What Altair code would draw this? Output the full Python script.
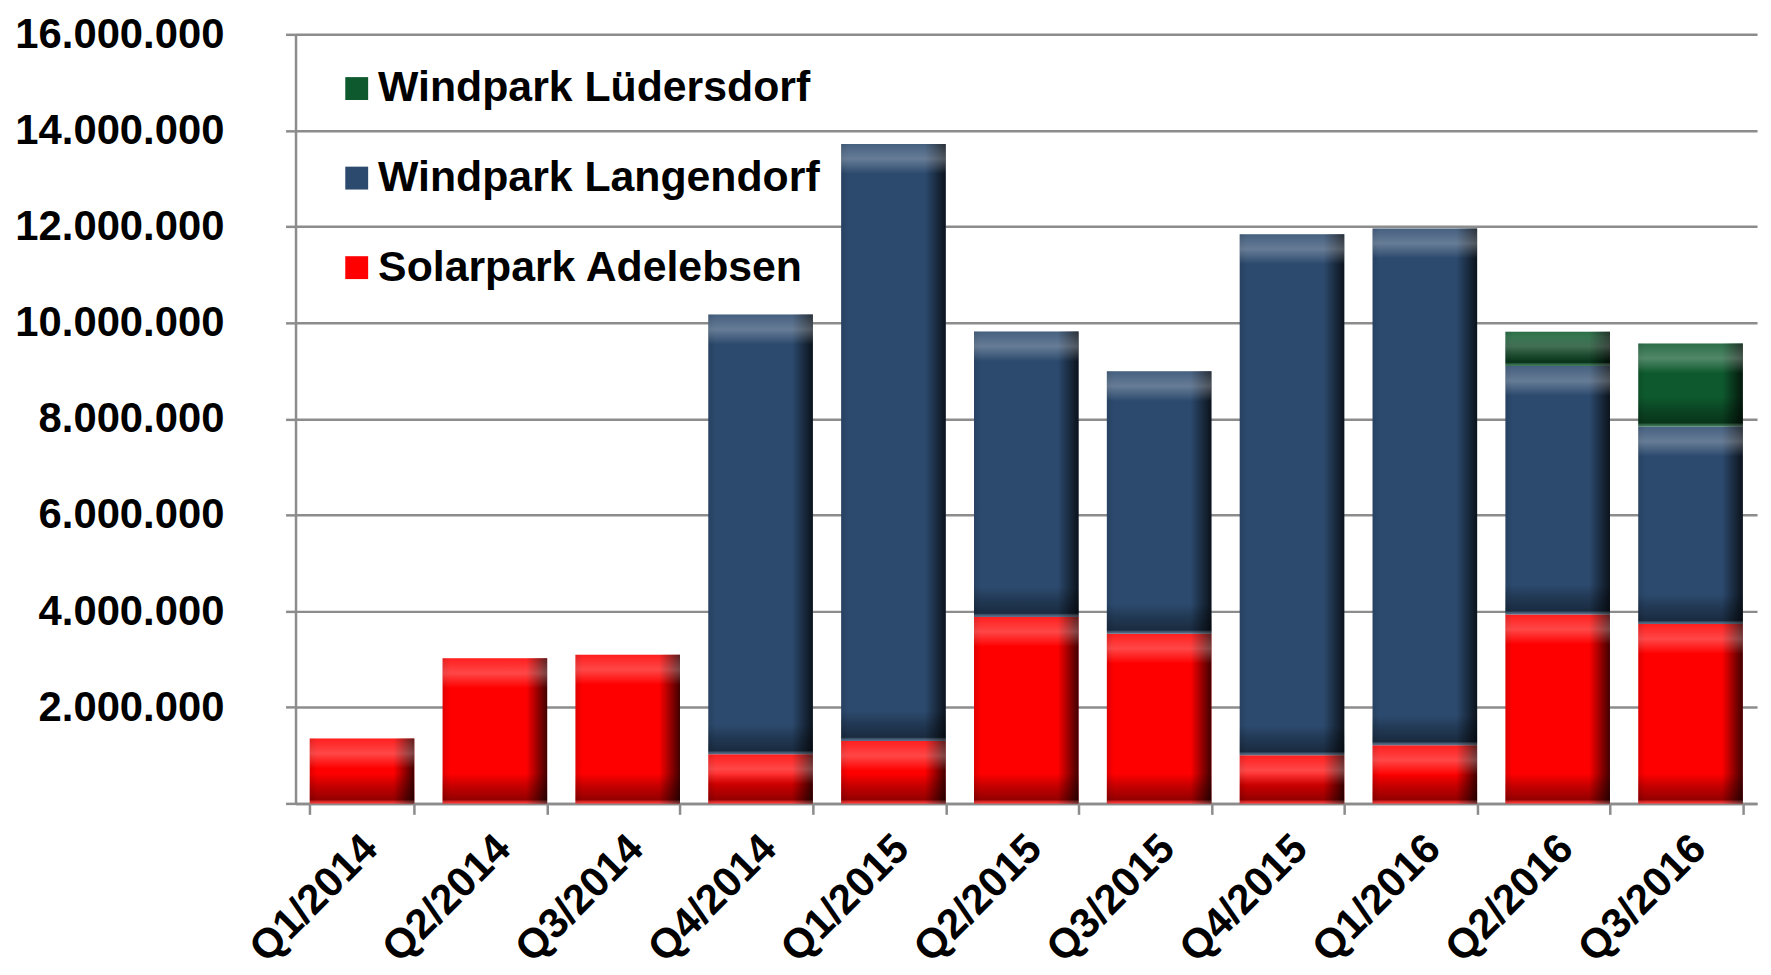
import altair as alt
import pandas as pd

quarters = ["Q1/2014", "Q2/2014", "Q3/2014", "Q4/2014", "Q1/2015", "Q2/2015",
            "Q3/2015", "Q4/2015", "Q1/2016", "Q2/2016", "Q3/2016"]
# values in kWh (millions)
solarpark = [1.35, 3.02, 3.09, 1.02, 1.30, 3.88, 3.53, 1.00, 1.21, 3.93, 3.73]
langendorf = [0, 0, 0, 9.15, 12.42, 5.94, 5.46, 10.84, 10.75, 5.17, 4.11]
luedersdorf = [0, 0, 0, 0, 0, 0, 0, 0, 0, 0.71, 1.73]

series_names = ["Windpark Lüdersdorf", "Windpark Langendorf", "Solarpark Adelebsen"]
series_colors = ["#0e5a2e", "#2c4a6e", "#ff0000"]
y_ticks = [0, 2e6, 4e6, 6e6, 8e6, 10e6, 12e6, 14e6, 16e6]

rows = []
for i, q in enumerate(quarters):
    for name, vals, order in [("Solarpark Adelebsen", solarpark, 0),
                              ("Windpark Langendorf", langendorf, 1),
                              ("Windpark Lüdersdorf", luedersdorf, 2)]:
        if vals[i] > 0:
            rows.append({"quarter": q, "series": name, "value": vals[i] * 1e6, "order": order})
df = pd.DataFrame(rows)

FONT = "Liberation Sans"
GRID = "#8c8c8c"

base = alt.Chart(df).transform_stack(
    stack="value", groupby=["quarter"], as_=["y0", "y1"],
    sort=[alt.SortField("order", "ascending")]
)

x_enc = alt.X(
    "quarter:N", sort=quarters,
    scale=alt.Scale(paddingInner=0.213, paddingOuter=0.107),
    axis=alt.Axis(title=None, labelAngle=315, grid=False, tickBand="extent",
                  tickSize=11, labelPadding=13, labelOffset=-6,
                  labelFontSize=42, labelFont=FONT, labelFontWeight="bold",
                  labelColor="#000000", labelLimit=400),
)
y_scale = alt.Scale(domain=[0, 16e6], nice=False)
y_axis = alt.Axis(title=None, values=y_ticks, tickSize=10, labelPadding=62,
                  labelFontSize=42, labelFont=FONT, labelFontWeight="bold",
                  labelColor="#000000", labelLimit=500,
                  labelExpr="datum.value == 0 ? '' : replace(replace(format(datum.value, ',d'), ',', '.'), ',', '.')")
y1_enc = alt.Y("y1:Q", scale=y_scale, axis=y_axis)
y0_enc = alt.Y("y0:Q", scale=y_scale, axis=y_axis)

bars = base.mark_bar().encode(
    x=x_enc,
    y=y1_enc,
    y2="y0:Q",
    color=alt.Color(
        "series:N",
        scale=alt.Scale(domain=series_names, range=series_colors),
        legend=alt.Legend(title=None, orient="none", legendX=40, legendY=33,
                          symbolType="square", symbolSize=529, symbolStrokeWidth=0,
                          labelFontSize=43, labelFont=FONT, labelFontWeight="bold",
                          labelColor="#000000", rowPadding=46, labelOffset=0,
                          padding=0, labelLimit=800),
    ),
)

side_shade = base.mark_bar(
    fill=alt.Gradient(
        gradient="linear", x1=0, x2=1, y1=0, y2=0,
        stops=[alt.GradientStop(offset=0, color="rgba(0,0,0,0.12)"),
               alt.GradientStop(offset=0.07, color="rgba(0,0,0,0)"),
               alt.GradientStop(offset=0.8, color="rgba(0,0,0,0)"),
               alt.GradientStop(offset=1, color="rgba(0,0,0,0.75)")]
    )
).encode(x=x_enc, y=y1_enc, y2="y0:Q")

top_shade = base.mark_rect(
    y2Offset=30,
    fill=alt.Gradient(
        gradient="linear", x1=0, x2=0, y1=0, y2=1,
        stops=[alt.GradientStop(offset=0, color="rgba(255,255,255,0.12)"),
               alt.GradientStop(offset=0.5, color="rgba(255,255,255,0.28)"),
               alt.GradientStop(offset=1, color="rgba(255,255,255,0)")]
    )
).encode(x=x_enc, y=y1_enc, y2="y1:Q")

bottom_shade = base.mark_rect(
    yOffset=-30,
    fill=alt.Gradient(
        gradient="linear", x1=0, x2=0, y1=0, y2=1,
        stops=[alt.GradientStop(offset=0, color="rgba(0,0,0,0)"),
               alt.GradientStop(offset=0.4, color="rgba(0,0,0,0.22)"),
               alt.GradientStop(offset=0.88, color="rgba(0,0,0,0.42)"),
               alt.GradientStop(offset=1, color="rgba(255,255,255,0.2)")]
    )
).encode(x=x_enc, y=y0_enc, y2="y0:Q")

chart = alt.layer(bars, side_shade, top_shade, bottom_shade).properties(
    width=1469, height=773,
    autosize=alt.AutoSizeParams(type="none"),
    padding={"left": 289, "top": 24, "right": 6, "bottom": 166},
).configure_view(stroke=None).configure_axis(
    gridColor=GRID, gridWidth=2.5, domainColor=GRID, domainWidth=2.5,
    tickColor=GRID, tickWidth=2.5,
)

chart.save("out.html", embed_options={"renderer": "svg", "actions": False})
